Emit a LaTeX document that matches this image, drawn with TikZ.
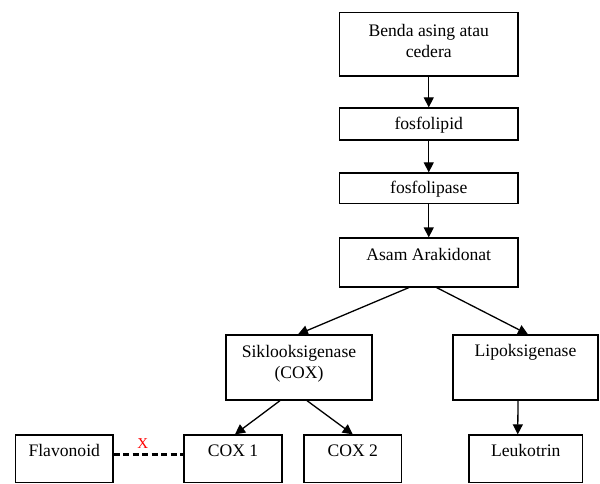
\documentclass[tikz,border=0pt]{standalone}
\usepackage{fontspec}
\setmainfont{Liberation Serif}
\usetikzlibrary{arrows.meta}
\begin{document}
\begin{tikzpicture}[x=1pt,y=-1pt,
  box/.style={draw=black, line width=1.3pt, rectangle, inner sep=0pt},
  txt/.style={inner sep=0pt, align=center, font=\fontsize{17.6}{21.5}\selectfont},
  arr/.style={line width=1.3pt, -{Triangle[length=10pt,width=10pt]}},
  dashline/.style={line width=2.6pt, dash pattern=on 6pt off 3.5pt}]
\useasboundingbox (0,0) rectangle (600,484);
\fill[white] (0,0) rectangle (600,484);
% boxes
\node[box, minimum width=178.5pt, minimum height=63.5pt] (b1) at (428.75,44.25) {};
\node[box, minimum width=178.5pt, minimum height=32pt] (b2) at (428.75,124) {};
\node[box, minimum width=178.5pt, minimum height=30.5pt] (b3) at (428.75,188.25) {};
\node[box, minimum width=178.5pt, minimum height=49pt] (b4) at (428.75,262.5) {};
\node[box, minimum width=146pt, minimum height=65pt] (b5) at (299,367.5) {};
\node[box, minimum width=145pt, minimum height=65pt] (b6) at (525.5,367.5) {};
\node[box, minimum width=97.5pt, minimum height=47.5pt] (b7) at (64.25,458.75) {};
\node[box, minimum width=98pt, minimum height=47.5pt] (b8) at (233,458.75) {};
\node[box, minimum width=97.5pt, minimum height=47.5pt] (b9) at (352.75,458.75) {};
\node[box, minimum width=113.5pt, minimum height=47.5pt] (b10) at (525.75,458.75) {};
% texts
\node[txt] (t1) at (428.75,41) {Benda asing atau\\cedera};
\node[txt] (t2) at (428.75,125) {fosfolipid};
\node[txt] (t3) at (428.75,189) {fosfolipase};
\node[txt] (t4) at (428.75,254) {Asam Arakidonat};
\node[txt] (t5) at (299,364) {Siklooksigenase\\(COX)};
\node[txt] (t6) at (525.5,352) {Lipoksigenase};
\node[txt] (t7) at (64.25,450.5) {Flavonoid};
\node[txt] (t8) at (233,450.5) {COX 1};
\node[txt] (t9) at (352.75,450.5) {COX 2};
\node[txt] (t10) at (525.75,450.5) {Leukotrin};
\node[inner sep=0pt, text=red, font=\fontsize{15}{18}\selectfont] (xm) at (142.7,444) {X};
% connectors
\draw[arr] (b1.south) -- (b2.north);
\draw[arr] (b2.south) -- (b3.north);
\draw[arr] (b3.south) -- (b4.north);
\draw[arr] ([xshift=-20pt]b4.south) -- ([xshift=-1pt]b5.north);
\draw[arr] ([xshift=8pt]b4.south) -- ([xshift=2.5pt]b6.north);
\draw[arr] ([xshift=-19pt]b5.south) -- ([xshift=2pt]b8.north);
\draw[arr] ([xshift=8pt]b5.south) -- ([xshift=0pt]b9.north);
\draw[arr] ([xshift=-7.5pt]b6.south) -- ([xshift=-8pt]b10.north);
\draw[dashline] ([yshift=4.5pt]b7.east) -- ([yshift=4.5pt]b8.west);
\end{tikzpicture}
\end{document}
